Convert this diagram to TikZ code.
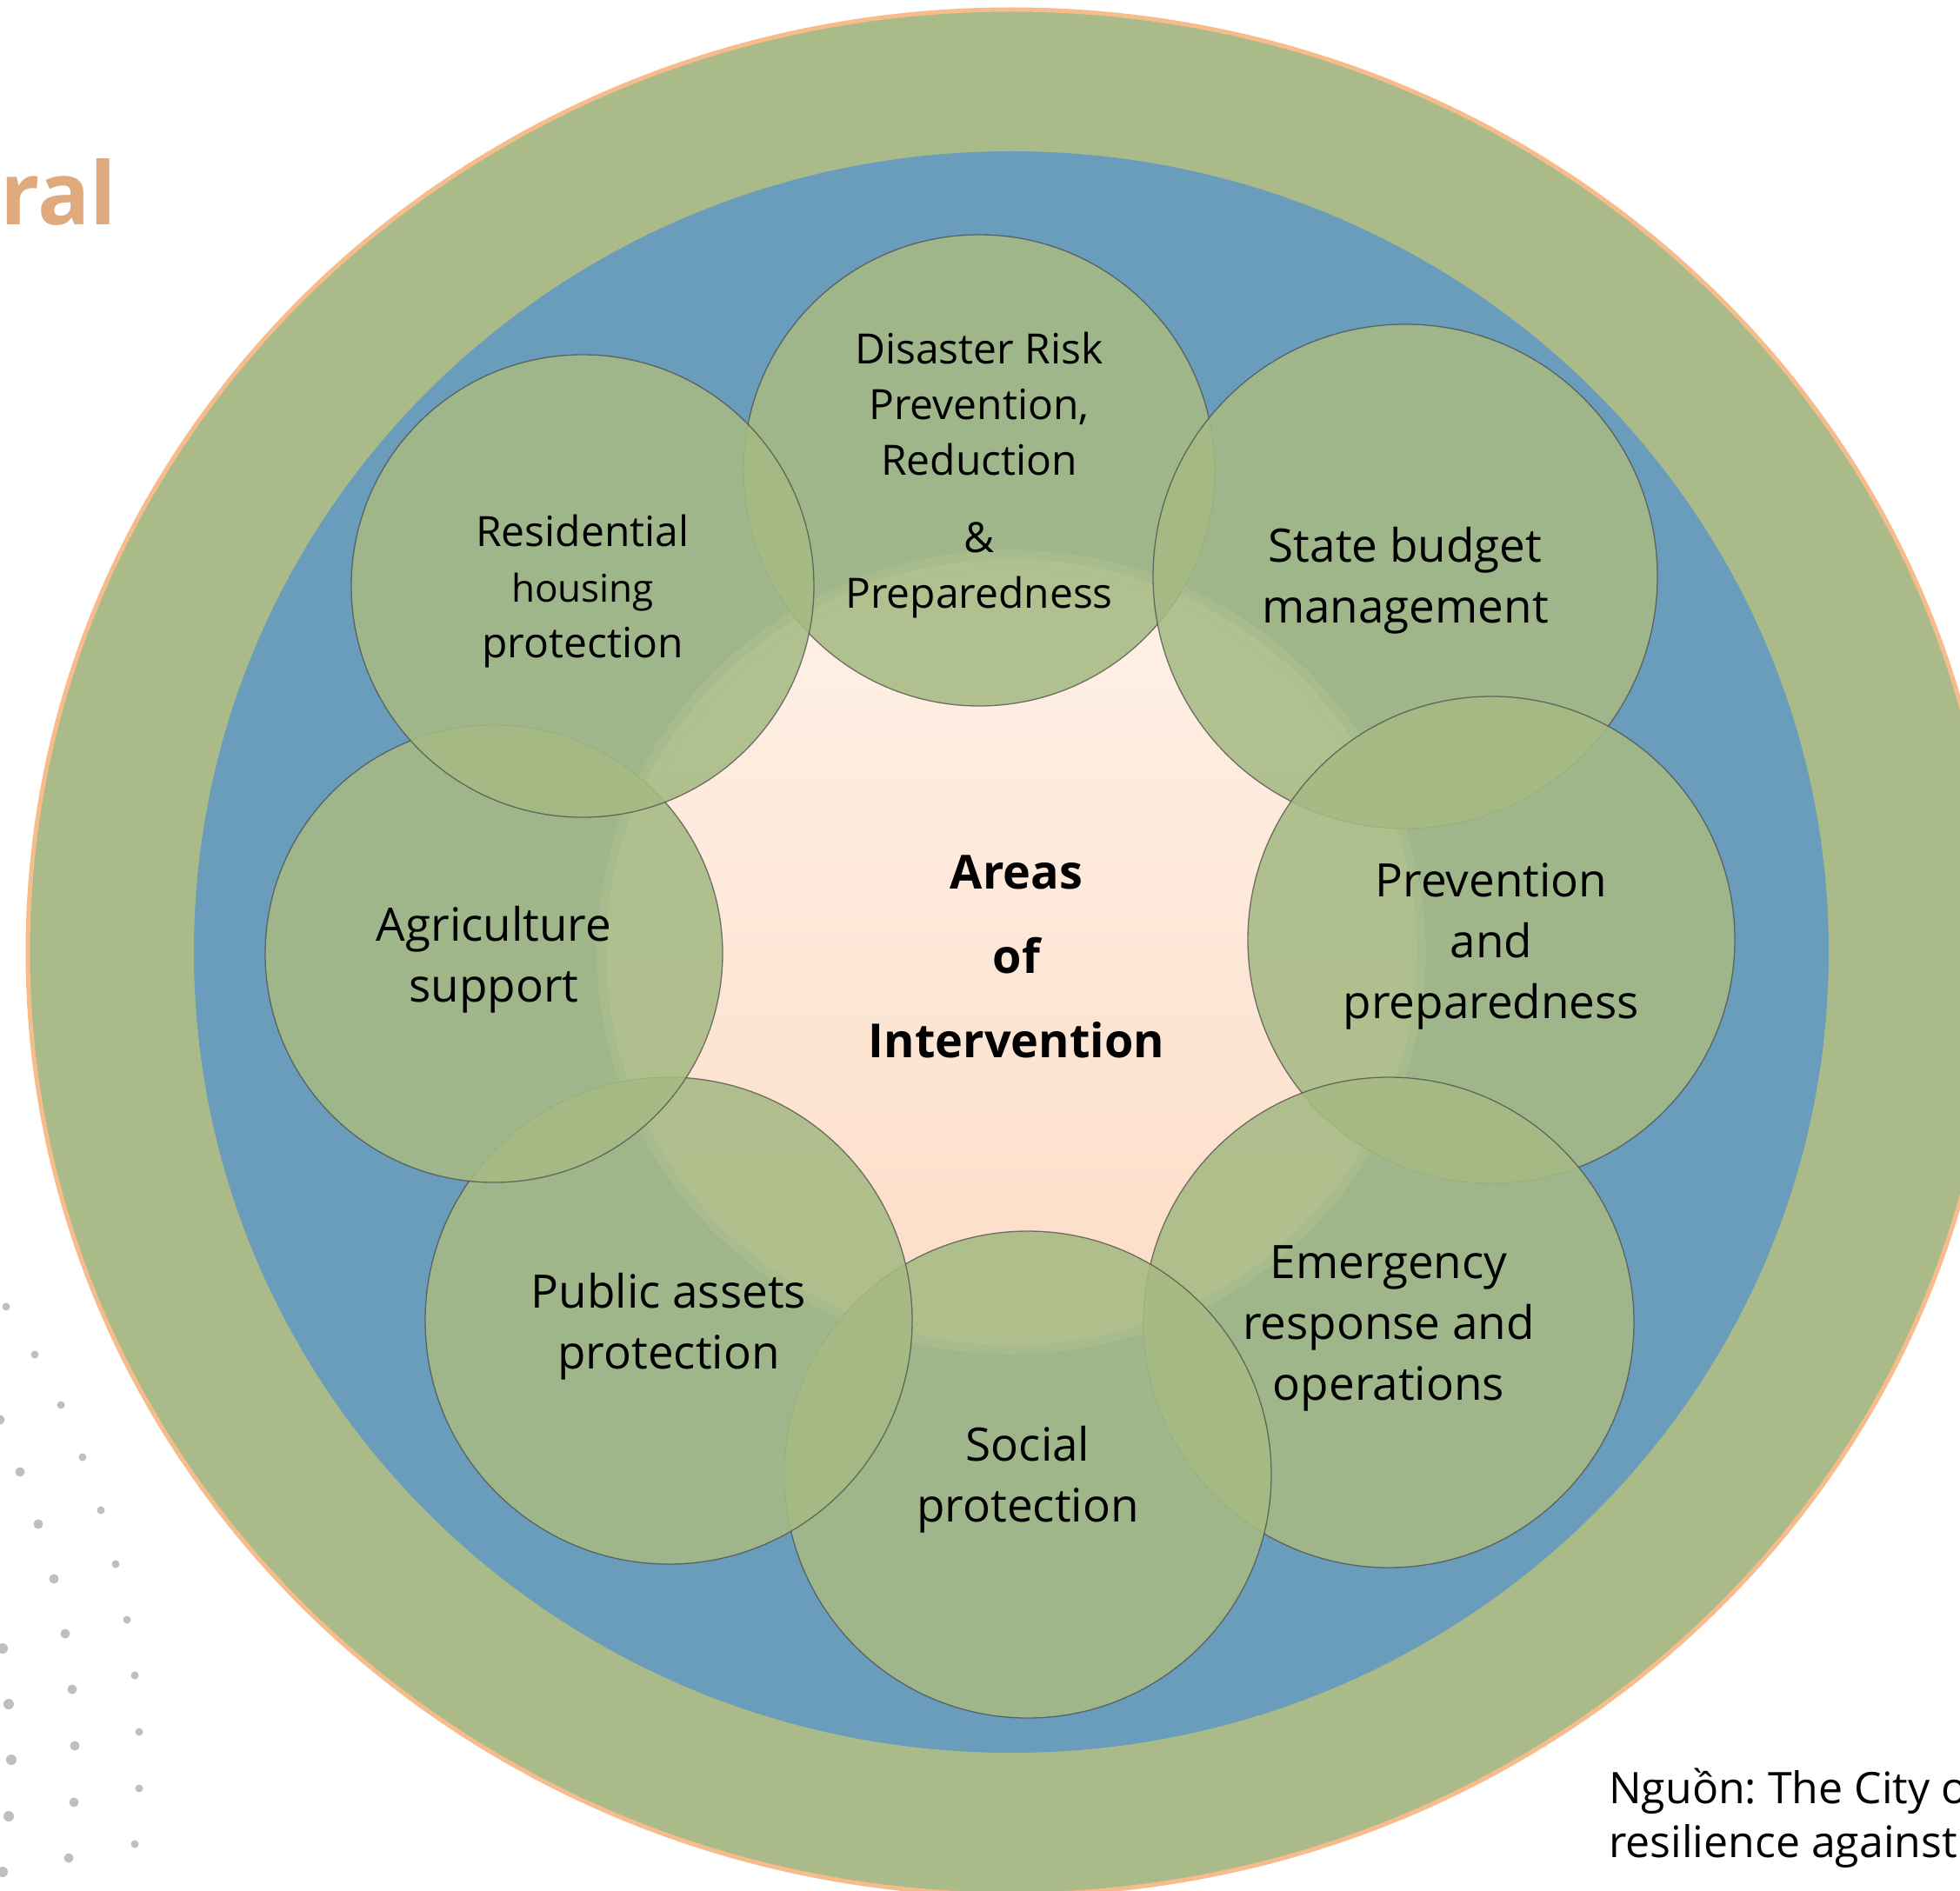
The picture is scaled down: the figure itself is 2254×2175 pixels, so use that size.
\documentclass[tikz,border=0pt]{standalone}
\usepackage{fontspec}
\setmainfont{Open Sans}
\usepackage{tikz}
\usetikzlibrary{positioning}
\definecolor{ringgreen}{RGB}{170,187,137}
\definecolor{ringorange}{RGB}{246,188,140}
\definecolor{ringblue}{RGB}{106,156,188}
\definecolor{coretop}{RGB}{255,241,231}
\definecolor{corebot}{RGB}{252,221,199}
\definecolor{corerim}{RGB}{250,236,222}
\definecolor{areagreen}{RGB}{166,186,132}
\definecolor{dotgrey}{RGB}{191,191,191}
\definecolor{titletan}{RGB}{224,170,127}
\tikzset{
  area/.style={circle, draw=black!70, fill=areagreen, fill opacity=0.88,
    draw opacity=0.75, line width=1.3pt, inner sep=0pt},
  areatext/.style={align=center, inner sep=0pt,
    font=\fontsize{53}{70}\selectfont},
  smalltext/.style={areatext, font=\fontsize{48}{64}\selectfont},
  core/.style={align=center, font=\fontsize{54}{97}\selectfont\bfseries},
  note/.style={anchor=base west, align=left, inner sep=0pt,
    font=\fontsize{50}{62}\selectfont\frenchspacing},
  greydot/.style={fill=dotgrey}
}

\begin{document}
\begin{tikzpicture}[x=1pt, y=-1pt]
  \useasboundingbox (0,0) rectangle (2254,2175);
  \clip (0,0) rectangle (2254,2175);

  % Title remnant
  \node[anchor=base west, inner sep=0pt, text=titletan,
    font=\fontsize{100}{100}\selectfont\bfseries] (title) at (0,259) {ral};

  % Dotted pattern
  \foreach \px/\py in {7/1503, 40/1558, 70/1616, 95/1676, 116/1737, 133/1799,
    146/1863, 155/1927, 160/1992, 160/2057, 155/2121}
    \fill[greydot] (\px,\py) circle (4.5);
  \foreach \px/\py in {0/1633, 23/1693, 44/1753, 62/1816, 75/1879, 83/1943,
    86/2008, 85/2073, 79/2137}
    \fill[greydot] (\px,\py) circle (5.5);
  \foreach \px/\py in {3/1896, 10/1960, 13/2024, 10/2089, 3/2153}
    \fill[greydot] (\px,\py) circle (6);

  % Outer ring
  \fill[ringgreen, draw=ringorange, line width=5pt]
    (1163,1095) ellipse [x radius=1131, y radius=1084];

  % Blue ring
  \fill[ringblue] (1163,1095) ellipse [x radius=940, y radius=921];

  % Core
  \shade[top color=coretop, bottom color=corebot]
    (1163,1095) ellipse [x radius=466, y radius=452];
  \draw[corerim, opacity=0.55, line width=21pt]
    (1163,1095) ellipse [x radius=466, y radius=452];
  \draw[black, opacity=0.08, line width=1.5pt]
    (1163,1095) ellipse [x radius=455, y radius=441];

  % Areas
  \node[area, minimum size=542pt] (drr) at (1126,541) {};
  \node[area, minimum size=580pt] (budget) at (1616,663) {};
  \node[area, minimum size=560pt] (prep) at (1715,1081) {};
  \node[area, minimum size=564pt] (emerg) at (1597,1521) {};
  \node[area, minimum size=560pt] (social) at (1182,1696) {};
  \node[area, minimum size=560pt] (public) at (769,1519) {};
  \node[area, minimum size=526pt] (agri) at (568,1097) {};
  \node[area, minimum size=532pt] (house) at (670,674) {};

  % Area labels
  \node[smalltext] (drrtext) at ([yshift=-6pt]drr)
    {Disaster Risk\\Prevention,\\Reduction\\[25pt]\&\\Preparedness};
  \node[areatext] (budgettext) at ([yshift=-5pt]budget)
    {State budget\\management};
  \node[areatext] (preptext) at ([yshift=-7pt]prep)
    {Prevention\\and\\preparedness};
  \node[areatext] (emergtext) at ([yshift=-7pt]emerg)
    {Emergency\\response and\\operations};
  \node[areatext] (socialtext) at ([yshift=-6pt]social)
    {Social\\protection};
  \node[areatext] (publictext) at ([yshift=-7pt]public)
    {Public assets\\protection};
  \node[areatext] (agritext) at ([yshift=-7pt]agri)
    {Agriculture\\support};
  \node[smalltext] (housetext) at ([yshift=-6pt]house)
    {Residential\\{\fontsize{44}{64}\selectfont housing}\\protection};

  % Centre label
  \node[core] (centre) at (1169,1100) {Areas\\of\\Intervention};

  % Source
  \node[note] (source) at (1850,2136) {Nguồn: The City o\\resilience against};
\end{tikzpicture}
\end{document}
